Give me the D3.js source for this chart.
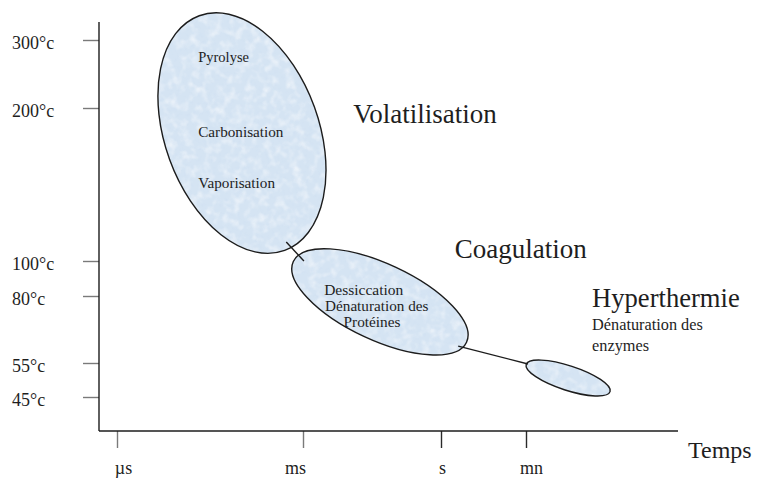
<!DOCTYPE html>
<html>
<head>
<meta charset="utf-8">
<script src="https://cdn.jsdelivr.net/npm/d3@7"></script>
<style>
  body { margin: 0; background: #fff; }
  text { font-family: "Liberation Serif", "Times New Roman", serif; fill: #1e1e1e; }
</style>
</head>
<body>
<script>
// ------------------------------------------------------------ data
// time ticks in log10(seconds): µs, ms, s, mn (60 s)
var timeTicks = [-6, -3, 0, 1.778];
var timeLabels = ["µs", "ms", "s", "mn"];

var tempTicks = [300, 200, 100, 80, 55, 45];
var tempLabels = ["300°c", "200°c", "100°c", "80°c", "55°c", "45°c"];

// zones (ellipses) : extent in time / temperature + tilt of the major axis
var zoneNames = ["Volatilisation", "Coagulation", "Hyperthermie"];
var zoneTimeMin = [-5.34, -3.18, 1.778];
var zoneTimeMax = [-2.5, 0.565, 3.54];
var zoneTempMin = [105, 58, 45.3];
var zoneTempMax = [340, 108, 56.1];
var zoneTilt = [70, 25, 18];

// connecting strokes between zones
var linkTimeFrom = [-3.27, 0.36];
var linkTempFrom = [112.4, 61.3];
var linkTimeTo = [-2.98, 1.82];
var linkTempTo = [100, 54.7];

// labels
var labelText = ["Pyrolyse", "Carbonisation", "Vaporisation",
                 "Dessiccation", "Dénaturation des", "Protéines",
                 "Volatilisation", "Coagulation",
                 "Hyperthermie", "Dénaturation des", "enzymes"];
var labelTime = [-4.69, -4.69, -4.69, -2.54, -2.52, -1.5, -1.91, 0.29, 3.16, 3.16, 3.16];
var labelTemp = [267.6, 181, 147.7, 80.6, 74.4, 68.4, 190.2, 102, 75.9, 67.3, 59.5];
var labelSize = [14.5, 15.2, 15.2, 15.5, 15.2, 15.3, 27, 27, 26.6, 16.3, 16.3];
var labelAnchor = ["start", "start", "start", "start", "start", "middle", "start", "start", "start", "start", "start"];

// ------------------------------------------------------------ layout
var W = 757, H = 479;
var plot = { left: 99, right: 678, top: 22, bottom: 431 };
var tickLabelDx = [6, -8, 1, 5];

var svg = d3.select("body").append("svg").attr("width", W).attr("height", H);

// piecewise scales (axis is not linear in the original drawing)
var x = d3.scaleLinear().domain(timeTicks).range([117, 303, 441, 526]);
var y = d3.scaleLinear().domain(tempTicks).range([40, 108, 261, 296, 363, 397]);

// texture for the zones
var defs = svg.append("defs");
var f = defs.append("filter").attr("id", "mottle")
  .attr("x", 0).attr("y", 0).attr("width", 1).attr("height", 1);
f.append("feTurbulence").attr("type", "fractalNoise").attr("baseFrequency", 0.12)
  .attr("numOctaves", 2).attr("seed", 7).attr("result", "noise");
f.append("feColorMatrix").attr("in", "noise").attr("type", "matrix")
  .attr("values", "0 0 0 0 1  0 0 0 0 1  0 0 0 0 1  1.8 0 0 0 -0.8").attr("result", "spots");
f.append("feComposite").attr("in", "spots").attr("in2", "SourceAlpha").attr("operator", "in");

var f2 = defs.append("filter").attr("id", "mottle2")
  .attr("x", 0).attr("y", 0).attr("width", 1).attr("height", 1);
f2.append("feTurbulence").attr("type", "fractalNoise").attr("baseFrequency", 0.3)
  .attr("numOctaves", 1).attr("seed", 2).attr("result", "noise");
f2.append("feColorMatrix").attr("in", "noise").attr("type", "matrix")
  .attr("values", "0 0 0 0 0.6  0 0 0 0 0.72  0 0 0 0 0.88  2.0 0 0 0 -1.05").attr("result", "spots");
f2.append("feComposite").attr("in", "spots").attr("in2", "SourceAlpha").attr("operator", "in");

// ------------------------------------------------------------ zones
// ellipse size from its bounding box and tilt
function ellipseOf(i) {
  var x0 = x(zoneTimeMin[i]), x1 = x(zoneTimeMax[i]);
  var y0 = y(zoneTempMax[i]), y1 = y(zoneTempMin[i]);
  var hw = (x1 - x0) / 2, hh = (y1 - y0) / 2;
  var t = zoneTilt[i] * Math.PI / 180;
  var c2 = Math.cos(t) * Math.cos(t), s2 = Math.sin(t) * Math.sin(t);
  var a2 = (hw * hw * c2 - hh * hh * s2) / (c2 - s2);
  var b2 = (hh * hh * c2 - hw * hw * s2) / (c2 - s2);
  return { cx: (x0 + x1) / 2, cy: (y0 + y1) / 2, rx: Math.sqrt(a2), ry: Math.sqrt(b2), tilt: zoneTilt[i] };
}

var zones = zoneNames.map(function(d, i){ return ellipseOf(i); });

var zg = svg.append("g");
function addEllipse(sel) {
  return sel.append("ellipse")
    .attr("cx", 0).attr("cy", 0)
    .attr("rx", function(d){ return d.rx; })
    .attr("ry", function(d){ return d.ry; });
}
var zone = zg.selectAll("g.zone").data(zones).enter().append("g")
  .attr("class", "zone")
  .attr("transform", function(d){ return "translate(" + d.cx + "," + d.cy + ") rotate(" + d.tilt + ")"; });

addEllipse(zone).attr("fill", "#d5e4f3");
addEllipse(zone).attr("fill", "#000").attr("filter", "url(#mottle)").attr("opacity", 0.7);
addEllipse(zone).attr("fill", "#000").attr("filter", "url(#mottle2)").attr("opacity", 0.45);
addEllipse(zone).attr("fill", "none").attr("stroke", "#1c1c1c").attr("stroke-width", 1.4);

// links
svg.selectAll("line.link").data(linkTimeFrom).enter().append("line")
  .attr("class", "link")
  .attr("x1", function(d, i){ return x(linkTimeFrom[i]); })
  .attr("y1", function(d, i){ return y(linkTempFrom[i]); })
  .attr("x2", function(d, i){ return x(linkTimeTo[i]); })
  .attr("y2", function(d, i){ return y(linkTempTo[i]); })
  .attr("stroke", "#1c1c1c").attr("stroke-width", 1.4);

// ------------------------------------------------------------ axes
var yAxis = svg.append("g").attr("transform", "translate(" + plot.left + ",0)")
  .call(d3.axisLeft(y).tickValues(tempTicks)
    .tickFormat(function(d, i){ return tempLabels[i]; })
    .tickSize(16).tickSizeOuter(0));
yAxis.select(".domain").remove();
yAxis.selectAll(".tick line").attr("stroke", "#7a7a7a").attr("stroke-width", 1.4);
yAxis.selectAll(".tick text")
  .attr("x", -87).attr("dy", "0.45em")
  .attr("text-anchor", "start")
  .style("font-size", "18px").style("font-family", "Liberation Serif").attr("fill", "#1e1e1e");

var xAxis = svg.append("g").attr("transform", "translate(0," + plot.bottom + ")")
  .call(d3.axisBottom(x).tickValues(timeTicks)
    .tickFormat(function(d, i){ return timeLabels[i]; })
    .tickSize(17).tickSizeOuter(0));
xAxis.select(".domain").remove();
xAxis.selectAll(".tick line")
  .attr("stroke", function(d, i){ return i < 2 ? "#7a7a7a" : "#2a2a2a"; })
  .attr("stroke-width", 1.4);
xAxis.selectAll(".tick text")
  .attr("y", 30)
  .attr("dx", function(d, i){ return tickLabelDx[i]; })
  .style("font-size", "18px").style("font-family", "Liberation Serif").attr("fill", "#1e1e1e");

// frame
svg.append("line")
  .attr("x1", plot.left).attr("y1", plot.top).attr("x2", plot.left).attr("y2", plot.bottom)
  .attr("stroke", "#1c1c1c").attr("stroke-width", 1.4);
svg.append("line")
  .attr("x1", plot.left).attr("y1", plot.bottom).attr("x2", plot.right).attr("y2", plot.bottom)
  .attr("stroke", "#1c1c1c").attr("stroke-width", 1.4);

svg.append("text").attr("x", 688).attr("y", 458)
  .style("font-size", "24px").text("Temps");

// ------------------------------------------------------------ labels
svg.selectAll("text.lab").data(labelText).enter().append("text")
  .attr("class", "lab")
  .attr("x", function(d, i){ return x(labelTime[i]); })
  .attr("y", function(d, i){ return y(labelTemp[i]); })
  .attr("text-anchor", function(d, i){ return labelAnchor[i]; })
  .style("font-size", function(d, i){ return labelSize[i] + "px"; })
  .text(function(d){ return d; });
</script>
</body>
</html>
